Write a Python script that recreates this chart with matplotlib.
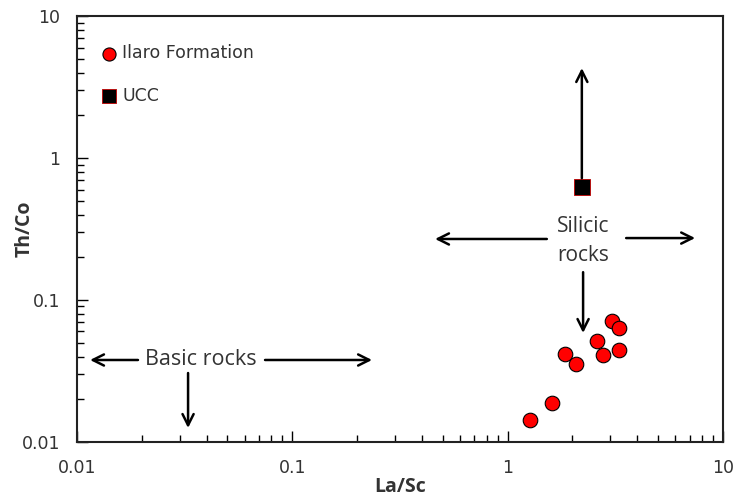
import matplotlib
matplotlib.use('Agg')
import matplotlib.pyplot as plt

# Ilaro Formation samples
la_sc = [3.04, 3.29, 2.61, 1.85, 2.08, 2.77, 3.28, 1.61, 1.27]
th_co = [0.0715, 0.0632, 0.0517, 0.0415, 0.0356, 0.041, 0.0445, 0.0188, 0.0143]

# Upper continental crust
ucc_la_sc = [2.21]
ucc_th_co = [0.625]

plt.rcParams['font.family'] = ['Open Sans', 'DejaVu Sans']

fig = plt.figure(figsize=(7.38, 4.96), dpi=100)
ax = fig.add_axes([0.1043, 0.1089, 0.8754, 0.8588])

ax.set_xscale('log')
ax.set_yscale('log')
ax.set_xlim(0.01, 10)
ax.set_ylim(0.01, 10)

ax.scatter(la_sc, th_co, s=110, c='#ff0000', edgecolors='black', linewidths=0.8,
           zorder=3, label='Ilaro Formation')
ax.scatter(ucc_la_sc, ucc_th_co, s=120, marker='s', c='black', edgecolors='#c00000',
           linewidths=0.6, zorder=3, label='UCC')

arrow = dict(arrowstyle='->,head_length=0.8,head_width=0.4', lw=1.8, color='black',
             shrinkA=0, shrinkB=0)

# silicic rocks
ax.annotate('', xy=(2.21, 4.3), xytext=(2.21, 0.72), arrowprops=arrow)
ax.annotate('', xy=(0.46, 0.269), xytext=(1.52, 0.269), arrowprops=arrow)
ax.annotate('', xy=(7.42, 0.273), xytext=(3.55, 0.273), arrowprops=arrow)
ax.annotate('', xy=(2.24, 0.0586), xytext=(2.24, 0.157), arrowprops=arrow)
ax.text(2.24, 0.26, 'Silicic\nrocks', ha='center', va='center', fontsize=15,
        color='#333333', linespacing=1.45)

# basic rocks
ax.annotate('', xy=(0.0115, 0.0378), xytext=(0.0192, 0.0378), arrowprops=arrow)
ax.annotate('', xy=(0.2345, 0.0378), xytext=(0.0747, 0.0378), arrowprops=arrow)
ax.annotate('', xy=(0.0328, 0.01255), xytext=(0.0328, 0.0306), arrowprops=arrow)
ax.text(0.0375, 0.0378, 'Basic rocks', ha='center', va='center', fontsize=15.5,
        color='#333333')

leg = ax.legend(loc='upper left', bbox_to_anchor=(0.01, 0.97), frameon=False,
                prop={'family': 'DejaVu Sans', 'size': 12.5},
                handletextpad=0.15, labelspacing=1.4, markerscale=0.9,
                handlelength=1.2, labelcolor='#333333')

ax.tick_params(which='both', direction='in', top=False, right=False,
               labelsize=13, labelcolor='#333333')
ax.tick_params(which='major', length=8, width=1, pad=12)
ax.tick_params(which='minor', length=5, width=1)
ax.set_xticks([0.01, 0.1, 1, 10])
ax.set_xticklabels(['0.01', '0.1', '1', '10'])
ax.set_yticks([0.01, 0.1, 1, 10])
ax.set_yticklabels(['0.01', '0.1', '1', '10'])
for lab in ax.get_xticklabels() + ax.get_yticklabels():
    lab.set_family('DejaVu Sans')
    lab.set_fontsize(12.5)
for s in ax.spines.values():
    s.set_linewidth(1.5)
    s.set_color('#222222')

ax.set_xlabel('La/Sc', fontsize=14, fontweight='bold', color='#333333', labelpad=0)
ax.set_ylabel('Th/Co', fontsize=14, fontweight='bold', color='#333333')
ax.yaxis.set_label_coords(-0.065, 0.5)

fig.savefig('out.png', dpi=100)
